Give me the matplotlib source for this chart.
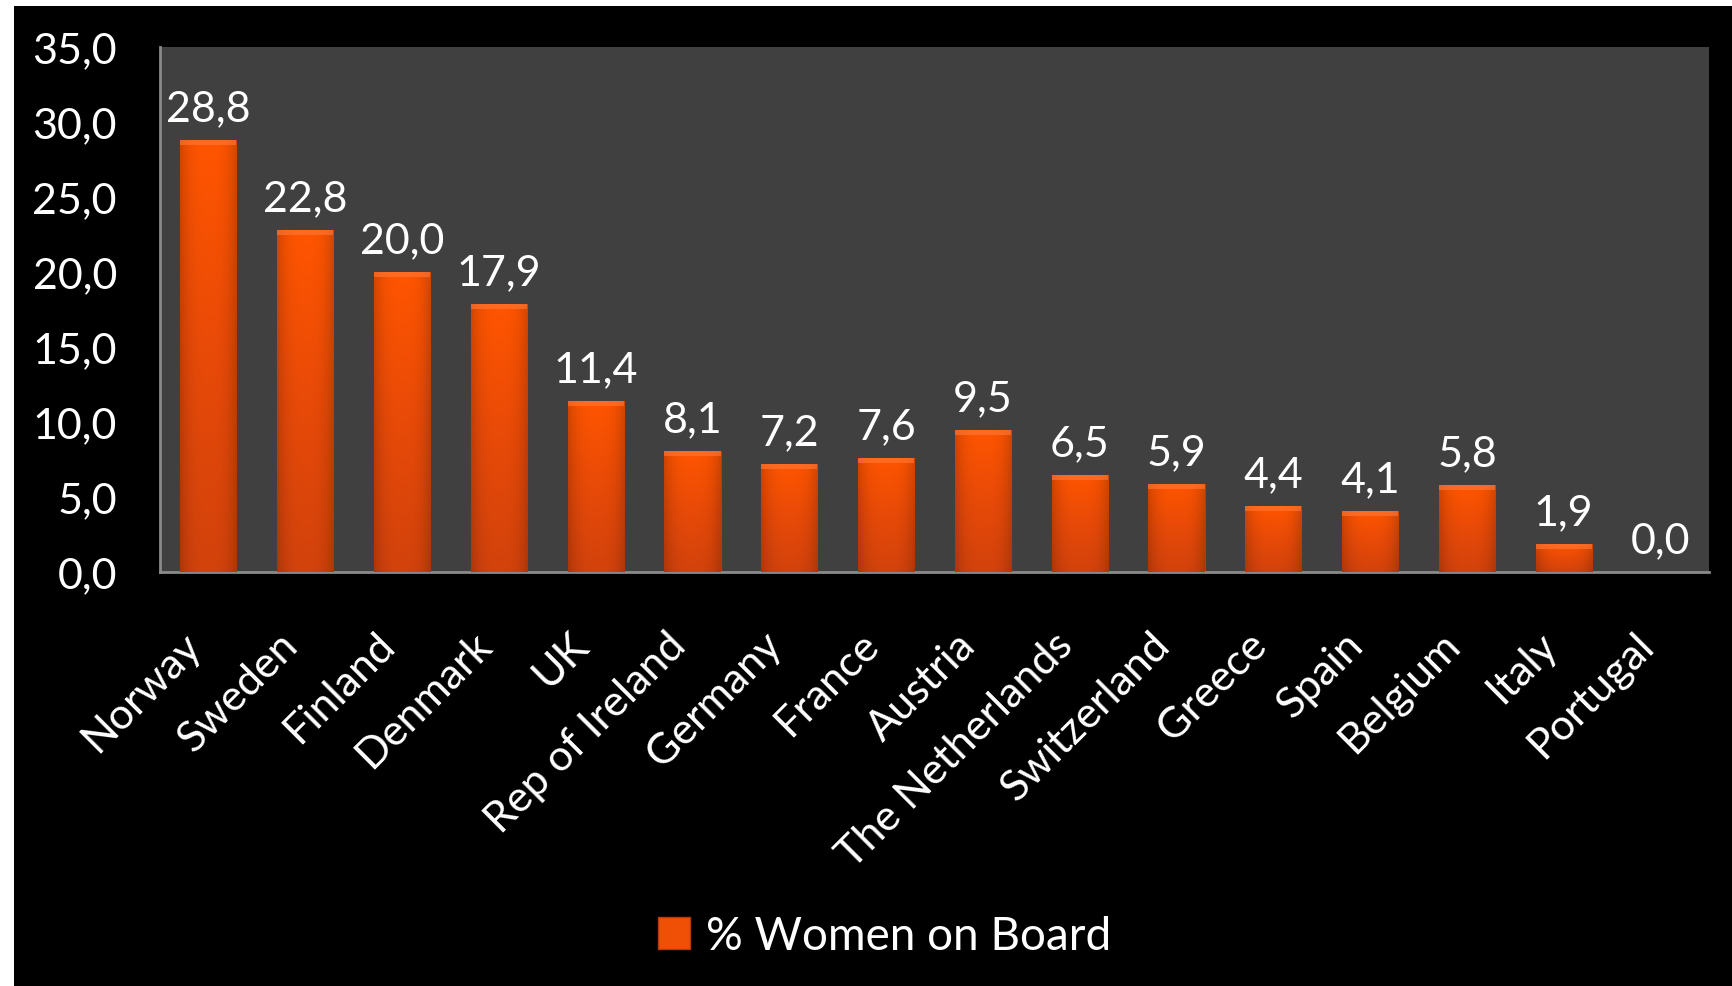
import matplotlib
matplotlib.use("Agg")
import matplotlib.pyplot as plt
import numpy as np
from matplotlib.patches import Rectangle
from matplotlib.colors import LinearSegmentedColormap

countries = ["Norway", "Sweden", "Finland", "Denmark", "UK", "Rep of Ireland",
             "Germany", "France", "Austria", "The Netherlands", "Switzerland",
             "Greece", "Spain", "Belgium", "Italy", "Portugal"]
values = [28.8, 22.8, 20.0, 17.9, 11.4, 8.1, 7.2, 7.6, 9.5, 6.5, 5.9, 4.4, 4.1, 5.8, 1.9, 0.0]
yticks = [0, 5, 10, 15, 20, 25, 30, 35]
series_name = "% Women on Board"

plt.rcParams['font.family'] = ['Lato', 'DejaVu Sans']
FS = 31

W, H = 1733, 987
fig = plt.figure(figsize=(W / 100, H / 100), dpi=100, facecolor='black')
# white margins at top and left
fig.patches.append(Rectangle((0, 1 - 7 / H), 1, 7 / H, transform=fig.transFigure,
                             facecolor='white', edgecolor='none', zorder=-1))
fig.patches.append(Rectangle((0, 0), 14 / W, 1, transform=fig.transFigure,
                             facecolor='white', edgecolor='none', zorder=-1))

ax = fig.add_axes([160 / W, 1 - 573 / H, (1709 - 160) / W, (573 - 48) / H])
ax.set_facecolor('#404040')

x = np.arange(len(countries))
bars = ax.bar(x, values, width=0.58, color='#F05006', edgecolor='#B83A08',
              linewidth=0.8, label=series_name, zorder=2)

cmap = LinearSegmentedColormap.from_list('o', ['#D2420C', '#E84A08', '#FF5500'])
grad = np.linspace(0, 1, 256).reshape(-1, 1)
hgrad = 1 - 0.18 * (np.abs(np.linspace(-1, 1, 64)) ** 3)
for b in bars:
    h = b.get_height()
    if h <= 0:
        continue
    x0 = b.get_x()
    w = b.get_width()
    rgb = cmap(np.repeat(grad, 64, axis=1))[..., :3] * hgrad[None, :, None]
    im = ax.imshow(rgb, extent=(x0, x0 + w, 0, h), origin='lower', aspect='auto',
                   zorder=3, interpolation='bilinear')
    im.set_clip_path(b)
    # top bevel highlight
    ax.add_patch(Rectangle((x0, h - 0.35), w, 0.35, facecolor='#FF7A3A',
                           edgecolor='none', alpha=0.6, zorder=4))

for xi, v in zip(x, values):
    ax.annotate(f"{v:.1f}".replace('.', ','), (xi, v), xytext=(0, 9),
                textcoords='offset points', ha='center', va='bottom',
                color='white', fontsize=FS, zorder=5)

ax.set_xlim(-0.5, len(countries) - 0.5)
ax.set_ylim(0, 35)
ax.set_yticks(yticks)
ax.set_yticklabels([f"{t:.1f}".replace('.', ',') for t in yticks])
ax.set_xticks(x)
ax.set_xticklabels(countries, rotation=45, ha='right', rotation_mode='default')
ax.tick_params(axis='both', colors='white', labelsize=FS, length=0)
ax.tick_params(axis='y', pad=31)
ax.tick_params(axis='x', pad=38)
for s in ['top', 'right']:
    ax.spines[s].set_visible(False)
for s in ['left', 'bottom']:
    ax.spines[s].set_color('#8A8A8A')
    ax.spines[s].set_linewidth(2)
ax.set_axisbelow(False)

leg = fig.legend(handles=[Rectangle((0, 0), 1, 1, facecolor='#F05006', edgecolor='#B83A08')],
                 labels=[series_name], loc='center', bbox_to_anchor=(885 / W, 1 - 937 / H),
                 frameon=False, fontsize=33, handlelength=0.7, handleheight=0.7,
                 handletextpad=0.35, labelcolor='white')

fig.savefig("out.png", dpi=100, facecolor='black')
